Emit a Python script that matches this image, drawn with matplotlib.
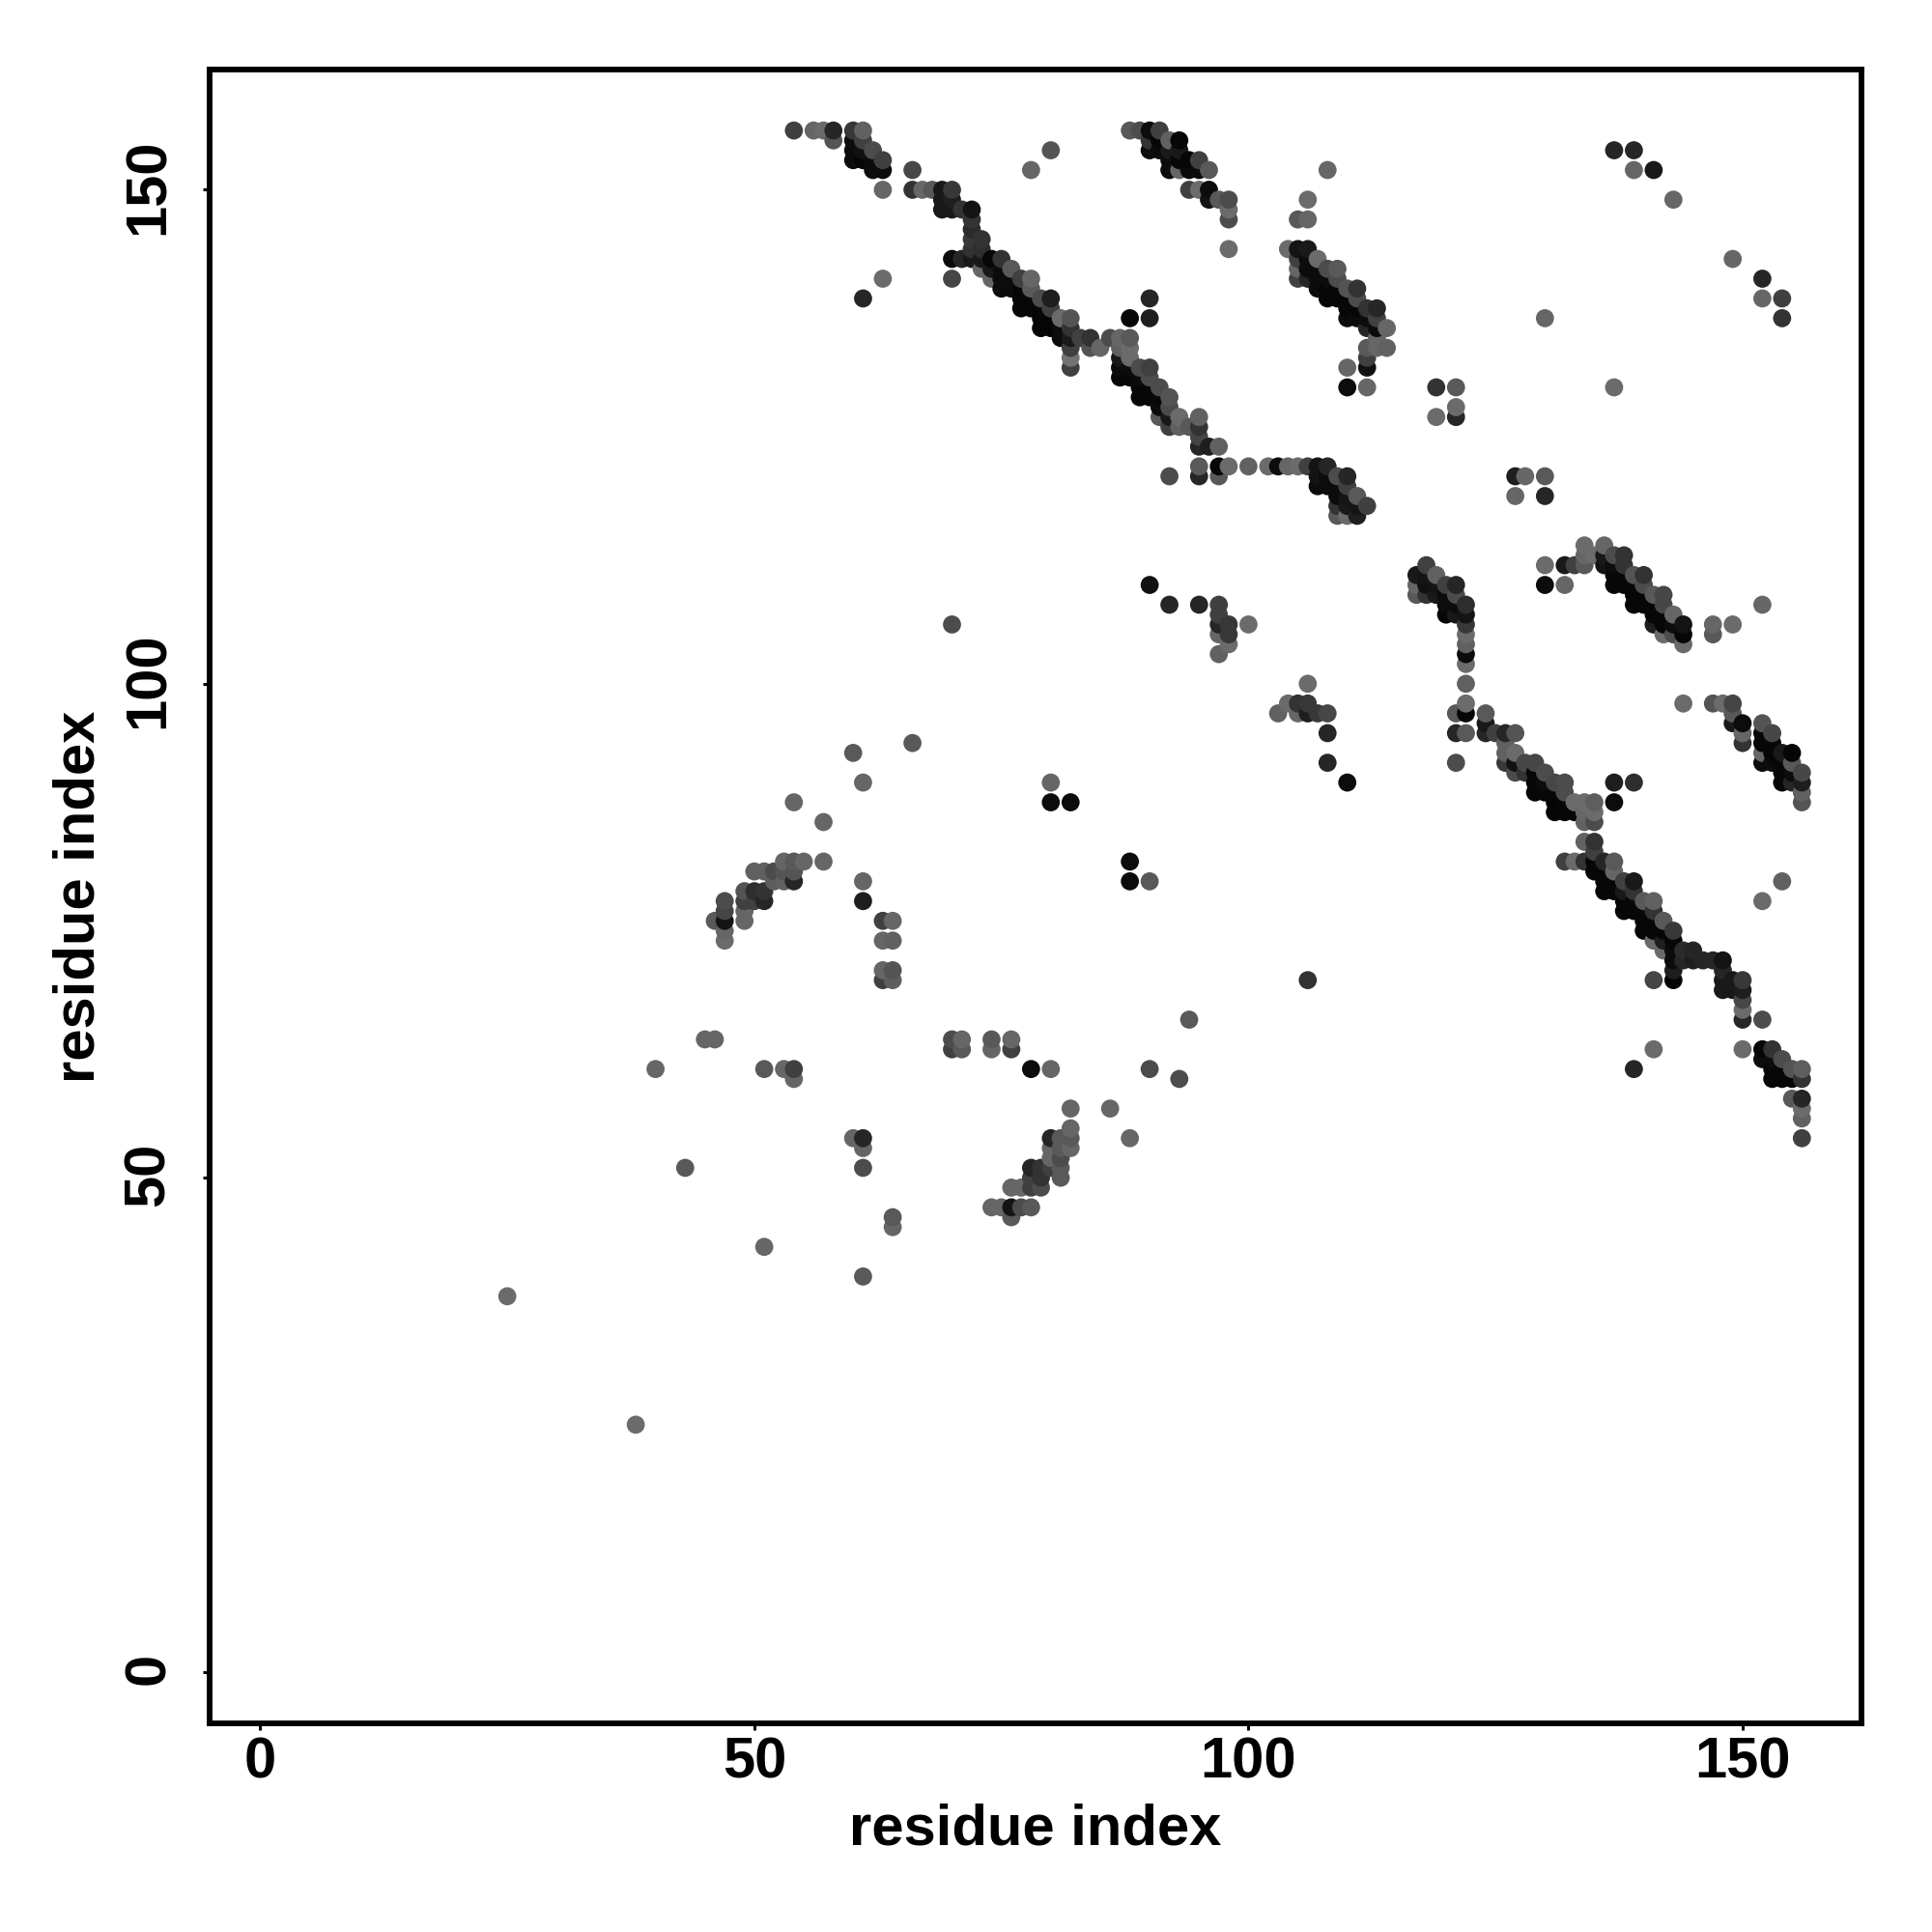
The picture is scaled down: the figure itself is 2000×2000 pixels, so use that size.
import numpy as np
import matplotlib
matplotlib.use("Agg")
import matplotlib.pyplot as plt
from matplotlib.transforms import ScaledTranslation

# (residue i, residue j, score shown as grey level)
scattered_low = [
 (25,38,.42),(38,25,.42),(40,61,.4),(43,51,.35),(51,43,.4),(45,64,.4),(46,64,.4),(51,61,.35),
 (53,61,.4),(54,61,.25),(54,60,.4),(61,40,.35),(60,54,.4),(61,54,.15),(61,53,.4),(61,51,.3),
 (64,46,.35),(64,45,.4),(70,64,.3),(70,63,.25),(71,64,.4),(71,63,.35),(74,64,.35),(74,63,.4),
 (76,64,.4),(76,63,.25),(78,61,.05),(80,61,.4),(82,57,.4),(86,57,.4),(88,54,.4),(90,61,.3),
 (93,60,.3),(94,66,.35),(106,70,.2),(88,82,.05),(88,80,.05),(90,80,.35),(80,90,.4),(80,88,.05),
 (82,88,.05),(60,93,.35),(61,90,.4),(66,94,.35),(54,88,.4),(57,86,.4),(57,82,.4),(61,80,.4),
 (61,78,.12),(63,76,.25),(64,76,.4),(63,74,.4),(64,74,.38),(63,71,.4),(64,71,.33),(63,70,.25),
 (64,70,.37),(70,106,.3),
]
arc_left = [
 (46,76,.35),(47,74,.42),(47,75,.4),(47,76,.08),(47,77,.27),(47,78,.3),(49,76,.4),(49,77,.4),
 (49,78,.25),(49,79,.33),(50,78,.25),(50,79,.18),(51,78,.15),(51,79,.2),(50,81,.38),(51,81,.38),
 (52,81,.3),(52,80,.37),(53,80,.38),(53,81,.33),(53,82,.4),(54,80,.15),(54,81,.33),(54,82,.35),(55,82,.4),
]
arc_low = [
 (74,47,.4),(75,47,.4),(76,47,.08),(76,46,.35),(77,47,.3),(78,47,.35),(76,49,.4),(77,49,.4),
 (78,49,.25),(79,49,.3),(78,50,.25),(79,50,.2),(78,51,.15),(79,51,.2),(80,51,.25),(80,52,.4),(80,53,.4),
 (80,54,.15),(81,50,.35),(81,51,.35),(81,52,.3),(81,53,.35),(81,54,.35),(82,53,.4),(82,54,.35),(82,55,.4),
]
top_a = [
 (54,156,.25),(56,156,.4),(57,156,.42),(58,155,.33),(58,156,.15),(60,153,.05),(60,154,.05),(60,155,.05),(60,156,.22),
 (61,153,.03),(61,154,.07),(61,155,.25),(61,156,.38),(62,152,.05),(62,153,.05),(62,154,.3),(63,152,.05),
 (63,153,.25),(63,150,.4),(63,141,.42),(61,139,.15),
]
diag_a = [
 (66,152,.28),(66,150,.2),(67,150,.4),(68,150,.35),(69,148,.1),(69,149,.1),(69,150,.1),(70,148,.1),(70,149,.12),(70,150,.22),
 (71,148,.2),(72,144,.2),(72,145,.22),(72,146,.17),(72,147,.2),(72,148,.08),(73,144,.18),(73,145,.2),
 (70,143,.05),(71,143,.15),(72,143,.1),(73,143,.1),(73,142,.4),(74,141,.4),(74,143,.03),(74,142,.1),(70,141,.27),
 (75,140,.05),(75,141,.05),(75,142,.05),(75,143,.2),(76,140,.05),(76,141,.05),(76,142,.35),(77,138,.03),(77,139,.03),
 (77,140,.03),(77,141,.25),(78,138,.03),(78,139,.03),(78,140,.35),(78,141,.4),(79,136,.02),(79,137,.02),(79,138,.03),
 (79,139,.3),(80,136,.02),(80,137,.02),(80,138,.25),(80,139,.12),(81,135,.05),(81,136,.05),(81,137,.42),(82,132,.25),
 (82,133,.45),(82,134,.25),(82,135,.1),(82,136,.2),(82,137,.33),(83,135,.25),(84,134,.33),(84,135,.2),
]
diag_b = [
 (85,134,.4),(86,135,.3),(87,131,.03),(87,132,.05),(87,133,.1),(87,134,.38),(87,135,.4),(88,131,.03),(88,132,.05),(88,133,.42),
 (88,134,.42),(88,135,.35),(89,129,.03),(89,130,.03),(89,131,.05),(89,132,.3),(90,129,.03),(90,130,.03),(90,131,.3),(90,132,.25),
 (91,127,.35),(91,128,.05),(91,129,.03),(91,130,.3),(92,126,.25),(92,127,.1),(92,128,.3),(92,129,.33),(93,126,.38),
 (93,127,.42),(94,126,.35),(95,124,.15),(95,125,.27),(95,126,.2),(95,127,.38),(96,124,.12),(97,124,.38),
 (90,139,.15),(88,137,.03),(90,137,.12),
]
row_122 = [
 (92,121,.3),(95,121,.15),(95,122,.35),(97,121,.35),(97,122,.03),(98,122,.42),(100,122,.38),(102,122,.42),(103,122,.05),
 (104,122,.4),(105,122,.42),(106,122,.25),(107,120,.05),(107,121,.08),(107,122,.08),(108,120,.05),(108,121,.05),(108,122,.15),
 (109,117,.35),(109,118,.2),(109,119,.05),(109,120,.05),(109,121,.3),(110,117,.42),(110,118,.1),(110,119,.08),(110,120,.25),
 (110,121,.15),(111,117,.12),(111,118,.08),(111,119,.35),(112,118,.25),
]
mid_cluster = [
 (90,110,.07),(92,108,.15),(95,108,.15),(97,103,.38),(97,105,.4),(97,106,.15),(97,107,.25),(97,108,.25),(98,104,.42),
 (98,105,.22),(98,106,.22),(100,106,.42),(106,100,.42),(103,97,.38),(104,98,.42),(105,97,.4),(105,98,.2),(106,97,.12),
 (106,98,.22),(107,97,.22),(108,97,.28),(108,95,.15),(108,92,.15),(110,90,.05),
]
top_b = [
 (88,156,.35),(89,156,.3),(90,154,.05),(90,155,.2),(90,156,.05),(91,154,.05),(91,155,.03),(91,156,.25),(92,152,.05),(92,153,.05),
 (92,154,.1),(92,155,.38),(93,152,.4),(93,153,.03),(93,154,.1),(93,155,.03),(94,152,.05),(94,153,.03),(95,152,.05),
 (95,153,.25),(96,152,.35),(94,150,.25),(95,150,.42),(96,149,.08),(96,150,.05),(97,149,.35),(98,144,.42),(98,147,.3),
 (98,148,.42),(98,149,.3),(80,154,.33),(78,152,.4),(108,152,.4),(106,149,.42),(105,147,.35),(106,147,.4),
]
band_c = [
 (104,144,.42),(105,141,.25),(105,142,.4),(105,143,.25),(105,144,.08),(106,141,.15),(106,142,.05),(106,143,.05),(106,144,.1),
 (107,140,.05),(107,141,.05),(107,142,.05),(107,143,.42),(108,139,.03),(108,140,.03),(108,141,.05),(108,142,.3),(109,139,.03),
 (109,140,.03),(109,141,.3),(109,142,.35),(110,137,.05),(110,138,.03),(110,139,.03),(110,140,.33),(111,137,.05),(111,138,.03),
 (111,139,.3),(111,140,.2),(112,136,.15),(112,137,.05),(112,138,.2),(113,136,.05),(113,137,.25),(113,138,.15),(114,136,.4),
 (112,132,.07),(112,133,.25),(112,134,.35),(113,134,.4),(113,135,.4),(114,134,.38),(110,132,.4),(110,130,.05),(112,130,.4),
]
scattered_high = [
 (137,154,.15),(139,154,.15),(139,152,.4),(141,152,.1),(143,149,.4),(149,143,.4),(152,141,.15),(152,139,.4),(154,139,.25),
 (154,137,.2),(130,137,.4),(137,130,.42),(119,130,.2),(121,130,.35),(121,128,.42),(119,127,.42),(121,127,.15),
 (127,121,.12),(128,121,.4),(130,121,.35),(127,119,.4),(130,119,.15),(147,106,.4),(147,105,.35),(149,106,.42),(152,108,.4),
 (137,90,.12),(139,90,.18),(137,88,.05),(154,80,.38),(152,78,.42),(141,63,.42),(139,61,.15),(150,63,.42),(152,66,.3),(141,70,.27),
]
band_d = [
 (117,109,.35),(117,110,.4),(117,111,.1),(118,109,.2),(118,110,.07),(118,111,.08),(118,112,.25),(119,109,.1),(119,110,.08),(119,111,.38),
 (120,107,.03),(120,108,.05),(120,109,.05),(120,110,.25),(121,107,.1),(121,108,.05),(121,109,.3),(121,110,.15),
 (122,97,.03),(122,98,.42),(122,100,.38),(122,102,.42),(122,103,.05),(122,104,.38),(122,105,.42),(122,106,.22),(122,107,.08),(122,108,.18),
 (121,97,.35),(121,95,.15),(122,95,.35),(121,92,.3),
]
diag_e = [
 (124,95,.15),(124,96,.1),(124,97,.35),(125,95,.25),(126,92,.22),(126,93,.38),(126,94,.38),(126,95,.15),(127,91,.3),(127,92,.07),
 (127,93,.42),(127,95,.33),(128,91,.2),(128,92,.28),(129,89,.03),(129,90,.03),(129,91,.03),(129,92,.28),(130,89,.03),(130,90,.05),
 (130,91,.3),(131,87,.03),(131,88,.02),(131,89,.03),(131,90,.28),(132,87,.03),(132,88,.03),(132,89,.3),(132,90,.3),(133,87,.03),
 (133,88,.42),(134,86,.38),(134,87,.4),(134,88,.42),(135,86,.3),(135,87,.42),(135,88,.37),
]
band_f = [
 (130,110,.05),(130,112,.42),(132,110,.4),(132,112,.1),(133,112,.25),(134,112,.35),(134,113,.4),(134,114,.42),(135,113,.42),
 (136,112,.08),(136,113,.1),(136,114,.4),(137,110,.03),(137,111,.03),(137,112,.05),(137,113,.3),(138,110,.03),(138,111,.03),(138,112,.2),(138,113,.2),
 (139,108,.03),(139,109,.03),(139,110,.03),(139,111,.33),(140,108,.03),(140,109,.03),(140,110,.3),(140,111,.2),(141,106,.12),(141,107,.03),
 (141,108,.03),(141,109,.35),(142,105,.42),(142,106,.03),(142,107,.03),(142,108,.28),(142,109,.28),(143,105,.3),(143,106,.05),(143,107,.4),
 (144,104,.42),(144,105,.03),(144,106,.08),
]
band_g = [
 (144,98,.42),(147,98,.33),(148,98,.42),(149,96,.1),(149,97,.35),(149,98,.27),(150,94,.2),(150,95,.4),(150,96,.05),
 (152,92,.05),(152,93,.4),(152,94,.03),(152,95,.03),(152,96,.33),(153,92,.05),(153,93,.03),(153,94,.03),(153,95,.28),
 (154,90,.03),(154,91,.03),(154,92,.03),(154,93,.1),(155,90,.15),(155,91,.05),(155,92,.35),(155,93,.02),
 (156,88,.33),(156,89,.38),(156,90,.12),(156,91,.28),
]
diag_h = [
 (132,82,.25),(133,82,.42),(134,82,.2),(134,84,.38),(135,81,.03),(135,82,.03),(135,83,.25),(135,84,.2),(136,79,.03),(136,80,.03),(136,81,.03),(136,82,.15),
 (137,79,.03),(137,80,.03),(137,81,.4),(137,82,.35),(138,77,.03),(138,78,.03),(138,79,.1),(138,80,.25),(139,77,.03),(139,78,.03),(139,79,.2),(139,80,.1),
 (140,75,.03),(140,76,.03),(140,77,.03),(140,78,.35),(141,74,.42),(141,75,.03),(141,76,.03),(141,77,.2),(141,78,.38),(142,73,.42),(142,74,.12),(142,75,.03),(142,76,.35),
 (143,70,.02),(143,71,.12),(143,72,.05),(143,73,.05),(143,74,.03),(143,75,.22),(144,72,.15),(144,73,.17),(145,72,.12),(145,73,.15),(146,72,.15),(147,72,.15),
 (148,69,.1),(148,70,.1),(148,71,.15),(148,72,.08),(149,69,.1),(149,70,.1),(150,66,.15),(150,67,.42),(150,68,.28),(150,69,.12),(150,70,.22),
]
tail_i = [
 (152,62,.05),(152,63,.03),(153,60,.03),(153,61,.03),(153,62,.05),(153,63,.2),(154,60,.03),(154,61,.03),(154,62,.3),(155,58,.35),(155,60,.03),(155,61,.33),
 (156,54,.25),(156,56,.38),(156,57,.42),(156,58,.15),(156,60,.2),(156,61,.37),
]
x_ticks = [0, 50, 100, 150]
y_ticks = [0, 50, 100, 150]
axis_label = "residue index"

regions = [scattered_low, arc_left, arc_low, top_a, diag_a, diag_b, row_122, mid_cluster, top_b, band_c,
           scattered_high, band_d, diag_e, band_f, band_g, diag_h, tail_i]
table = np.array([p for r in regions for p in r], dtype=float)
order = np.lexsort((table[:, 1], table[:, 0]))
table = table[order]

plt.rcParams["font.family"] = ["Liberation Sans", "DejaVu Sans"]
plt.rcParams["font.weight"] = "bold"

fig = plt.figure(figsize=(20, 20), dpi=100, facecolor="white")
ax = fig.add_axes([216.5/2000, 1 - 1784/2000, (1927-216.5)/2000, (1784-72)/2000])
ax.scatter(table[:, 0], table[:, 1], c=table[:, 2], cmap="gray", vmin=0, vmax=1,
           s=182, linewidths=0, zorder=3, clip_on=True)
ax.set_xlim(-5.17, 162.03)
ax.set_ylim(-5.23, 162.17)
ax.set_xticks(x_ticks)
ax.set_yticks(y_ticks)
for s in ax.spines.values():
    s.set_linewidth(4.2)
    s.set_color("black")
ax.tick_params(axis="both", length=5, width=2.2, color="black", labelsize=43)
ax.tick_params(axis="x", pad=4.5)
ax.tick_params(axis="y", pad=20)
shift_up = ScaledTranslation(0, 2.5/72, fig.dpi_scale_trans)
for t in ax.get_yticklabels():
    t.set_rotation(90)
    t.set_va("center")
    t.set_transform(t.get_transform() + shift_up)
ax.set_xlabel(axis_label, fontsize=43, fontweight="bold", labelpad=10.5)
ax.set_ylabel(axis_label, fontsize=43, fontweight="bold", labelpad=12.5)
fig.savefig("out.png", dpi=100)
